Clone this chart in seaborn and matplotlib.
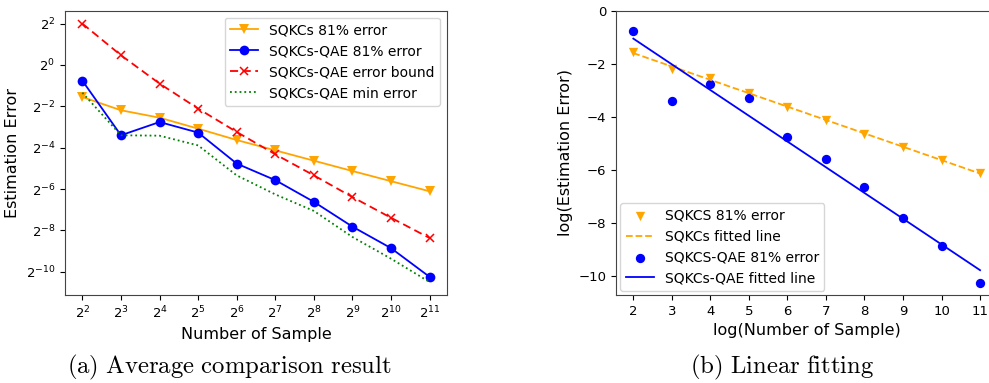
"""
Comparaison des erreurs d'estimation SQKCs vs SQKCs-QAE.
"""

import matplotlib
matplotlib.use("Agg")
import matplotlib.pyplot as plt
import matplotlib.ticker as mticker
import seaborn as sns
import pandas as pd
import numpy as np

# exposants log2 du nombre d'échantillons
log_n = [2, 3, 4, 5, 6, 7, 8, 9, 10, 11]

# log2 de l'erreur
sqkcs_err = [-1.55, -2.19, -2.55, -3.08, -3.63, -4.13, -4.63, -5.13, -5.62, -6.11]
qae_err = [-0.76, -3.40, -2.76, -3.27, -4.77, -5.57, -6.62, -7.82, -8.86, -10.25]
qae_bound = [2.0, 0.47, -0.90, -2.11, -3.24, -4.32, -5.34, -6.39, -7.39, -8.37]
qae_min = [-1.34, -3.40, -3.42, -3.89, -5.34, -6.26, -7.06, -8.32, -9.37, -10.5]

W, H = 989, 383
fig = plt.figure(figsize=(W / 100, H / 100), dpi=100)
plt.rcParams['mathtext.fontset'] = 'dejavusans'

df = pd.DataFrame({
    'n': 2.0 ** np.array(log_n),
    'sqkcs': 2.0 ** np.array(sqkcs_err),
    'qae': 2.0 ** np.array(qae_err),
    'bound': 2.0 ** np.array(qae_bound),
    'min': 2.0 ** np.array(qae_min),
})

# --- (a) comparaison moyenne ---
ax1 = fig.add_axes([65 / W, 1 - 295 / H, (447 - 65) / W, (295 - 10.7) / H])
ax1.set_xscale('log', base=2)
ax1.set_yscale('log', base=2)
lw = 1.3
sns.lineplot(data=df, x='n', y='sqkcs', ax=ax1, color='orange', marker='v', markersize=7,
             markeredgewidth=0, lw=lw, label='SQKCs 81% error')
sns.lineplot(data=df, x='n', y='qae', ax=ax1, color='blue', marker='o', markersize=7,
             markeredgewidth=0, lw=lw, label='SQKCs-QAE 81% error')
sns.lineplot(data=df, x='n', y='bound', ax=ax1, color='red', marker='x', markersize=6,
             markeredgecolor='red', markeredgewidth=1.1, lw=lw, linestyle=(0, (4.5, 2.5)),
             label='SQKCs-QAE error bound')
sns.lineplot(data=df, x='n', y='min', ax=ax1, color='green', lw=lw, linestyle=':',
             label='SQKCs-QAE min error')
ax1.set_xticks(df['n'])
ax1.set_yticks([2.0 ** k for k in range(-10, 3, 2)])
ax1.xaxis.set_minor_locator(mticker.NullLocator())
ax1.yaxis.set_minor_locator(mticker.NullLocator())
ax1.set_xlabel('Number of Sample', fontsize=11.5)
ax1.set_ylabel('Estimation Error', fontsize=11.5)
ax1.tick_params(labelsize=9.5)
ax1.legend(loc='upper right', fontsize=10)

# --- (b) ajustement linéaire ---
ax2 = fig.add_axes([616 / W, 1 - 295 / H, (997.4 - 616) / W, (295 - 10.7) / H])
x = np.array(log_n, dtype=float)
p1 = np.polyfit(x, sqkcs_err, 1)
p2 = np.polyfit(x, qae_err, 1)
sns.scatterplot(x=x, y=sqkcs_err, ax=ax2, color='orange', marker='v', s=45, linewidth=0,
                label='SQKCS 81% error')
sns.lineplot(x=x, y=np.polyval(p1, x), ax=ax2, color='orange', linestyle='--', lw=lw,
             label='SQKCs fitted line')
sns.scatterplot(x=x, y=qae_err, ax=ax2, color='blue', marker='o', s=45, linewidth=0,
                label='SQKCS-QAE 81% error')
sns.lineplot(x=x, y=np.polyval(p2, x), ax=ax2, color='blue', lw=lw,
             label='SQKCs-QAE fitted line')
ax2.set_xlim(1.55, 11.45)
ax2.set_ylim(-10.7, 0)
ax2.set_xticks(log_n)
ax2.set_xlabel('log(Number of Sample)', fontsize=11.5)
ax2.set_ylabel('log(Estimation Error)', fontsize=11.5)
ax2.tick_params(labelsize=9.5)
ax2.legend(loc='lower left', fontsize=10, borderaxespad=0.3)

for ax in (ax1, ax2):
    for sp in ax.spines.values():
        sp.set_color('#444444')

# légendes des sous-figures
plt.rcParams['mathtext.fontset'] = 'cm'
fig.text(229 / W, 1 - 367 / H, r'$\mathrm{(a)\ Average\ comparison\ result}$',
         ha='center', va='center', fontsize=17.8)
fig.text(782 / W, 1 - 367 / H, r'$\mathrm{(b)\ Linear\ fitting}$',
         ha='center', va='center', fontsize=17.8)

fig.savefig('out.png', dpi=100)
